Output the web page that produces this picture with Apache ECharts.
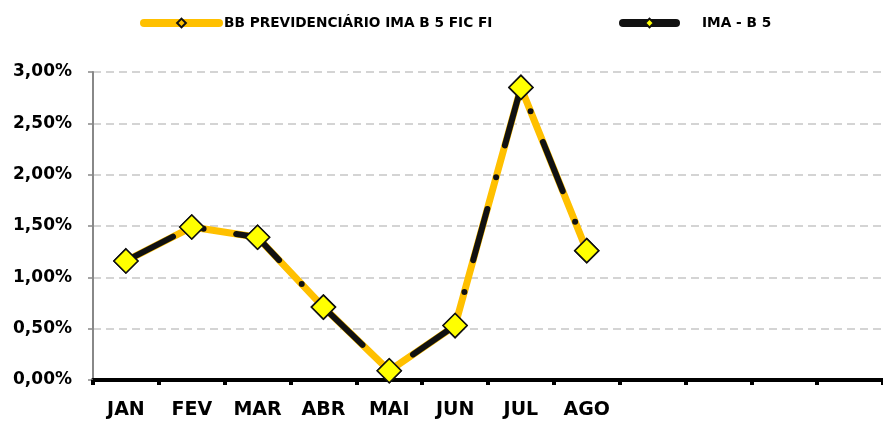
<!DOCTYPE html>
<html>
<head>
<meta charset="utf-8">
<script src="https://cdn.jsdelivr.net/npm/echarts@6/dist/echarts.min.js"></script>
<style>html,body{margin:0;padding:0;background:#fff;}#c{width:883px;height:424px;}</style>
</head>
<body>
<div id="c"></div>
<script>
var categories = ['JAN','FEV','MAR','ABR','MAI','JUN','JUL','AGO','SET','OUT','NOV','DEZ'];
var categoryLabels = ['JAN','FEV','MAR','ABR','MAI','JUN','JUL','AGO','','','',''];
var fundName = 'BB PREVIDENCIÁRIO IMA B 5 FIC FI';
var benchName = 'IMA - B 5';
var fundValues = [1.16, 1.49, 1.39, 0.71, 0.09, 0.53, 2.85, 1.26];
var benchValues = [1.16, 1.49, 1.39, 0.71, 0.09, 0.53, 2.85, 1.26];
var yMin = 0, yMax = 3, yStep = 0.5;

var chart = echarts.init(document.getElementById('c'), null, {renderer: 'canvas'});
var fontFam = 'DejaVu Sans';
var markerStyle = {color: '#FFFF00', borderColor: '#111111', borderWidth: 1.5};
chart.setOption({
  animation: false,
  backgroundColor: '#ffffff',
  legend: [{
    data: [fundName],
    left: 140, top: 16, padding: 0,
    itemWidth: 75, itemHeight: 11,
    textStyle: {fontFamily: fontFam, fontWeight: 'bold', fontSize: 13.7, color: '#000'},
    lineStyle: {width: 8, cap: 'round'}
  }, {
    data: [benchName],
    left: 619, top: 16, padding: 0,
    itemWidth: 53, itemHeight: 11,
    textStyle: {fontFamily: fontFam, fontWeight: 'bold', fontSize: 13.7, color: '#000', padding: [0,0,0,21]},
    lineStyle: {width: 8, cap: 'round', type: 'solid'}
  }],
  grid: {left: 93, right: 0, top: 72, bottom: 44, containLabel: false},
  xAxis: {
    type: 'category',
    data: categories,
    boundaryGap: true,
    axisLine: {lineStyle: {color: '#000', width: 4}},
    axisTick: {show: true, length: 5, lineStyle: {color: '#000', width: 4}, alignWithLabel: false},
    axisLabel: {
      margin: 21, interval: 0,
      fontFamily: fontFam, fontWeight: 'bold', fontSize: 19, color: '#000',
      formatter: function (v, i) { return categoryLabels[i]; }
    },
    splitLine: {show: false}
  },
  yAxis: {
    type: 'value',
    min: yMin, max: yMax, interval: yStep,
    axisLine: {show: true, lineStyle: {color: '#888', width: 2}},
    axisTick: {show: true, length: 5, lineStyle: {color: '#888', width: 1.5}},
    axisLabel: {
      margin: 21,
      fontFamily: fontFam, fontWeight: 'bold', fontSize: 17, color: '#000',
      formatter: function (v) { return v.toFixed(2).replace('.', ',') + '%'; }
    },
    splitLine: {show: true, lineStyle: {color: '#d4d4d4', width: 2, type: [8, 5]}}
  },
  series: [{
    name: fundName,
    type: 'line',
    data: fundValues,
    z: 2,
    symbol: 'diamond',
    symbolSize: 24,
    showAllSymbol: true,
    lineStyle: {color: '#FFC000', width: 7, cap: 'round', join: 'round'},
    itemStyle: {color: '#FFC000', borderColor: '#111', borderWidth: 1.5},
    emphasis: {disabled: true}
  }, {
    name: benchName,
    type: 'line',
    data: benchValues,
    z: 3,
    symbol: 'diamond',
    symbolSize: 24,
    showAllSymbol: true,
    lineStyle: {color: '#111111', width: 6, type: [53, 33, 0, 33], cap: 'round', join: 'round'},
    itemStyle: markerStyle,
    emphasis: {disabled: true}
  }]
});
</script>
</body>
</html>
